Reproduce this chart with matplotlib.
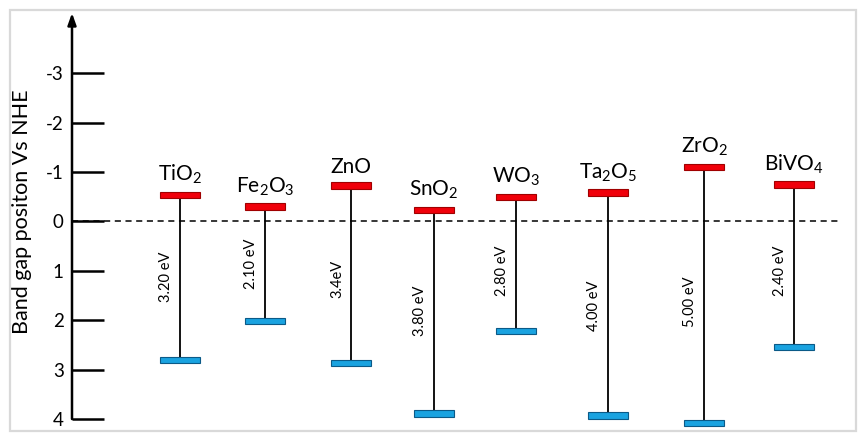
import matplotlib.pyplot as plt
from matplotlib.patches import Rectangle

plt.rcParams['font.family'] = ['Lato', 'DejaVu Sans']
plt.rcParams['mathtext.fontset'] = 'custom'
plt.rcParams['mathtext.rm'] = 'Lato'
plt.rcParams['mathtext.default'] = 'regular'

# --- data ---
materials = ['TiO$_2$', 'Fe$_2$O$_3$', 'ZnO', 'SnO$_2$', 'WO$_3$', 'Ta$_2$O$_5$', 'ZrO$_2$', 'BiVO$_4$']
cb_edge = [-0.54, -0.30, -0.73, -0.23, -0.49, -0.59, -1.10, -0.75]   # conduction band (red)
vb_edge = [2.81, 2.02, 2.87, 3.89, 2.22, 3.93, 4.08, 2.54]          # valence band (blue)
gap_labels = ['3.20 eV', '2.10 eV', '3.4eV', '3.80 eV', '2.80 eV', '4.00 eV', '5.00 eV', '2.40 eV']
gap_label_y = [1.13, 0.86, 1.16, 1.80, 1.00, 1.70, 1.63, 1.00]
yticks = [-3, -2, -1, 0, 1, 2, 3, 4]

# horizontal placement of each material (axis units, axis at 0)
xpos = [108, 193, 279, 362, 444, 536, 632, 722]

W, H = 866, 441
fig = plt.figure(figsize=(W / 100, H / 100), dpi=100)
ax = fig.add_axes([72 / W, 1 - 419 / H, (842 - 72) / W, (419 - 13) / H])

ax.set_xlim(0, 770)
ax.set_ylim(4, -4.22)
for s in ['top', 'right', 'bottom', 'left']:
    ax.spines[s].set_visible(False)
ax.set_xticks([])

# y axis with arrow
ax.annotate('', xy=(0, 1), xytext=(0, 0), xycoords='axes fraction',
            arrowprops=dict(arrowstyle='-|>,head_length=0.7,head_width=0.25', lw=1.8,
                            color='black', shrinkA=0, shrinkB=0))
ax.set_yticks(yticks)
ax.set_yticklabels([str(t) for t in yticks])
ax.tick_params(axis='y', direction='in', length=23, width=1.8, labelsize=13.5, pad=6)
ax.set_ylabel('Band gap positon Vs NHE', fontsize=15.5)
ax.yaxis.set_label_coords(-0.052, 0.51)

# zero line
ax.axhline(0, color='black', lw=1.1, ls=(0, (4, 3)))

bar_w = 40
thick = 0.13
for i in range(len(materials)):
    x = xpos[i]
    ax.plot([x, x], [cb_edge[i], vb_edge[i]], color='black', lw=1.3, zorder=2, clip_on=False)
    ax.bar(x, thick, bottom=cb_edge[i] - thick / 2, width=bar_w,
           color='#f0000a', edgecolor='#a00000', lw=0.8, zorder=3, clip_on=False)
    ax.bar(x, thick, bottom=vb_edge[i] - thick / 2, width=bar_w,
           color='#1aa3e0', edgecolor='#0b5a87', lw=0.8, zorder=3, clip_on=False)
    ax.annotate(materials[i], (x, cb_edge[i] - thick / 2), xytext=(0, 4),
                textcoords='offset points', ha='center', va='bottom', fontsize=15)
    ax.annotate(gap_labels[i], (x, gap_label_y[i]), xytext=(-10, 0),
                textcoords='offset points', ha='center', va='center',
                rotation=90, fontsize=10.5)

# light grey frame round the whole picture
fig.add_artist(Rectangle((10 / W, 1 - 431 / H), (856 - 10) / W, (431 - 10) / H,
                         transform=fig.transFigure, fill=False,
                         ec='#d9d9d9', lw=1.6))

fig.savefig('out.png', dpi=100)
